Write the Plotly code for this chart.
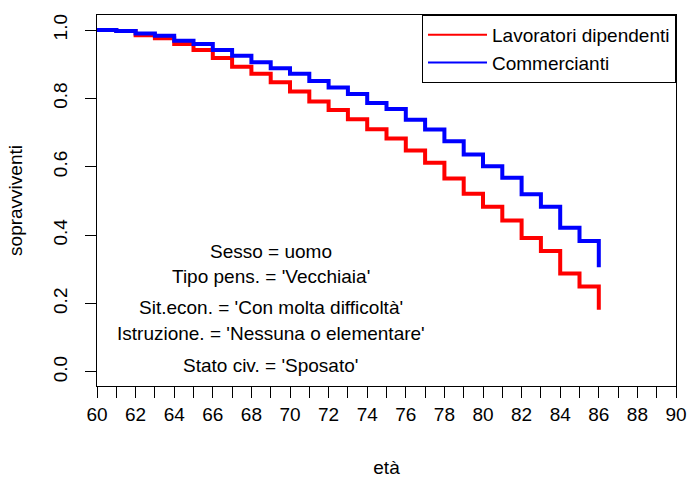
import plotly.graph_objects as go

# Survival estimates by age (step function, one value per year of age)
ages = list(range(60, 87))
lavoratori_dipendenti = [1.000, 0.997, 0.985, 0.976, 0.959, 0.942, 0.918, 0.893, 0.872,
                         0.847, 0.820, 0.791, 0.766, 0.739, 0.710, 0.683, 0.648, 0.612,
                         0.566, 0.521, 0.483, 0.443, 0.392, 0.354, 0.288, 0.250, 0.182]
commercianti = [1.000, 0.997, 0.990, 0.983, 0.969, 0.959, 0.942, 0.925, 0.906,
                0.888, 0.872, 0.851, 0.832, 0.813, 0.787, 0.769, 0.738, 0.709,
                0.675, 0.636, 0.602, 0.568, 0.520, 0.483, 0.422, 0.383, 0.306]

series_names = ["Lavoratori dipendenti", "Commercianti"]
series_colors = ["#FF0000", "#0000FF"]

x_ticks = list(range(60, 91))
x_ticktext = [str(a) if a % 2 == 0 else "" for a in x_ticks]
y_ticks = [0.0, 0.2, 0.4, 0.6, 0.8, 1.0]
y_ticktext = ["0.0", "0.2", "0.4", "0.6", "0.8", "1.0"]

covariate_labels = [
    "Sesso = uomo",
    "Tipo pens. = 'Vecchiaia'",
    "Sit.econ. = 'Con molta difficoltà'",
    "Istruzione. = 'Nessuna o elementare'",
    "Stato civ. = 'Sposato'",
]
covariate_y = [0.352, 0.279, 0.190, 0.114, 0.020]

FONT = "Liberation Sans, Arial, sans-serif"
FS = 19

fig = go.Figure()
# thick step curves (kept out of the legend)
for name, vals, col in zip(series_names, [lavoratori_dipendenti, commercianti], series_colors):
    fig.add_trace(go.Scatter(
        x=ages, y=vals, name=name, mode="lines", showlegend=False,
        line=dict(color=col, width=4, shape="hv"),
    ))
# legend keys drawn with a thinner line
for name, col in zip(series_names, series_colors):
    fig.add_trace(go.Scatter(
        x=[None], y=[None], name=name, mode="lines",
        line=dict(color=col, width=2),
    ))

for txt, yv in zip(covariate_labels, covariate_y):
    fig.add_annotation(x=69, y=yv, text=txt, showarrow=False,
                       xanchor="center", yanchor="middle",
                       font=dict(size=FS, color="black", family=FONT))

axis_common = dict(
    showline=True, linecolor="black", linewidth=1, mirror=True,
    ticks="outside", ticklen=11, tickcolor="black", tickwidth=1,
    showgrid=False, zeroline=False, automargin=False,
    tickfont=dict(size=FS, color="black", family=FONT),
)

fig.update_xaxes(
    range=[60, 90], tickmode="array", tickvals=x_ticks, ticktext=x_ticktext,
    title=dict(text="età", font=dict(size=FS, color="black", family=FONT), standoff=44),
    **axis_common,
)
fig.update_yaxes(
    range=[-0.041, 1.044], tickmode="array", tickvals=y_ticks, ticktext=y_ticktext,
    tickangle=-90, ticklabelstandoff=10,
    title=dict(text="sopravviventi", font=dict(size=FS, color="black", family=FONT), standoff=22),
    **axis_common,
)

fig.update_layout(
    width=689, height=478,
    margin=dict(l=97, r=13, t=15, b=92),
    paper_bgcolor="white", plot_bgcolor="white",
    font=dict(family=FONT, size=FS, color="black"),
    legend=dict(
        x=1, y=1, xanchor="right", yanchor="top",
        bgcolor="white", bordercolor="black", borderwidth=1,
        font=dict(size=FS, color="black", family=FONT),
        itemwidth=59, tracegroupgap=0, entrywidth=205,
    ),
)

fig.write_html("out.html")
